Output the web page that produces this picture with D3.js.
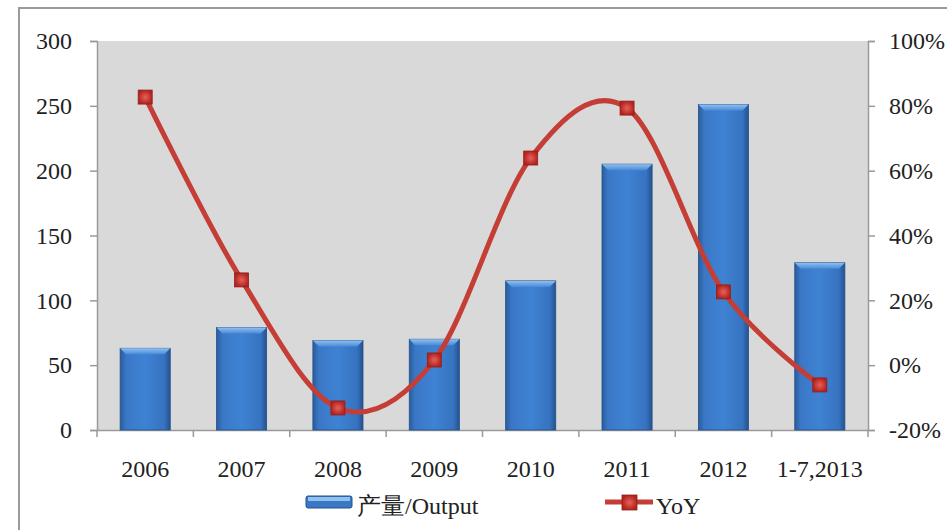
<!DOCTYPE html>
<html>
<head>
<meta charset="utf-8">
<script src="https://cdn.jsdelivr.net/npm/d3@7"></script>
<style>
  body { margin: 0; background: #fff; }
  svg text { font-family: "Liberation Serif", "Times New Roman", serif; fill: #222; }
</style>
</head>
<body>
<svg id="chart" width="947" height="530"></svg>
<script>
// data
const categories = ["2006", "2007", "2008", "2009", "2010", "2011", "2012", "1-7,2013"];
const output = [63, 79, 69, 70, 115, 205, 251, 129];
const yoy = [82.7, 26.3, -13.2, 1.6, 63.9, 79.3, 22.6, -6.1];
const leftTicks = [0, 50, 100, 150, 200, 250, 300];
const rightTicks = [-20, 0, 20, 40, 60, 80, 100];

const svg = d3.select("#chart");
const margin = { top: 41, right: 79, bottom: 100, left: 97 };
const width = 947 - margin.left - margin.right;
const height = 530 - margin.top - margin.bottom;

const defs = svg.append("defs");
const barGrad = defs.append("linearGradient").attr("id", "barGrad")
  .attr("x1", "0").attr("x2", "1").attr("y1", "0").attr("y2", "0");
barGrad.append("stop").attr("offset", "0%").attr("stop-color", "#2a5c9c");
barGrad.append("stop").attr("offset", "12%").attr("stop-color", "#3a78c6");
barGrad.append("stop").attr("offset", "50%").attr("stop-color", "#3f82d3");
barGrad.append("stop").attr("offset", "88%").attr("stop-color", "#3673c0");
barGrad.append("stop").attr("offset", "100%").attr("stop-color", "#24528f");

const topGrad = defs.append("linearGradient").attr("id", "topGrad")
  .attr("x1", "0").attr("x2", "0").attr("y1", "0").attr("y2", "1");
topGrad.append("stop").attr("offset", "0%").attr("stop-color", "#8fc0f0");
topGrad.append("stop").attr("offset", "100%").attr("stop-color", "#4a8ad8");

const markGrad = defs.append("radialGradient").attr("id", "markGrad");
markGrad.append("stop").attr("offset", "0%").attr("stop-color", "#e8605a");
markGrad.append("stop").attr("offset", "100%").attr("stop-color", "#b3241f");

// outer border
svg.append("rect")
  .attr("x", 19).attr("y", 8).attr("width", 940).attr("height", 540)
  .attr("fill", "none").attr("stroke", "#9a9a9a").attr("stroke-width", 2);

const g = svg.append("g")
  .attr("transform", "translate(" + margin.left + "," + margin.top + ")");

g.append("rect")
  .attr("width", width).attr("height", height)
  .attr("fill", "#d9d9d9");

const x = d3.scaleBand().domain(categories).range([0, width]).paddingInner(0.48).paddingOuter(0.24);
const xb = d3.scaleBand().domain(categories).range([0, width]);
const y = d3.scaleLinear().domain([0, 300]).range([height, 0]);
const y2 = d3.scaleLinear().domain([-20, 100]).range([height, 0]);

// axes
const leftAxis = g.append("g")
  .call(d3.axisLeft(y).tickValues(leftTicks).tickSize(7).tickPadding(18));
const rightAxis = g.append("g")
  .attr("transform", "translate(" + width + ",0)")
  .call(d3.axisRight(y2).tickValues(rightTicks).tickSize(7).tickPadding(14)
    .tickFormat(function(d) { return d + "%"; }));
const bottomAxis = g.append("g")
  .attr("transform", "translate(0," + height + ")")
  .call(d3.axisBottom(xb).tickSize(0).tickPadding(30));

// boundary ticks on x axis
g.append("g").selectAll("line")
  .data(d3.range(categories.length + 1))
  .join("line")
  .attr("x1", function(i) { return i * xb.bandwidth(); })
  .attr("x2", function(i) { return i * xb.bandwidth(); })
  .attr("y1", height).attr("y2", height + 7)
  .attr("stroke", "#9a9a9a").attr("stroke-width", 1.5);

[leftAxis, rightAxis, bottomAxis].forEach(function(a) {
  a.selectAll("path").attr("stroke", "#9a9a9a").attr("stroke-width", 1.5);
  a.selectAll("line").attr("stroke", "#9a9a9a").attr("stroke-width", 1.5);
  a.selectAll("text").attr("font-size", 24).attr("fill", "#222")
    .style("font-family", "'Liberation Serif', serif");
});

// bars
const bars = g.selectAll(".bar").data(output).join("g").attr("class", "bar");
bars.append("rect")
  .attr("x", function(d, i) { return x(categories[i]); })
  .attr("y", function(d) { return y(d); })
  .attr("width", x.bandwidth())
  .attr("height", function(d) { return height - y(d); })
  .attr("fill", "url(#barGrad)")
  .attr("stroke", "#23508a").attr("stroke-width", 0.8);
bars.append("path")
  .attr("d", function(d, i) {
    const x0 = x(categories[i]), w = x.bandwidth(), t = y(d);
    return "M" + x0 + "," + t + "H" + (x0 + w) + "L" + (x0 + w - 6) + "," + (t + 6) +
      "H" + (x0 + 6) + "Z";
  })
  .attr("fill", "url(#topGrad)");

// YoY line
const line = d3.line()
  .x(function(d, i) { return xb(categories[i]) + xb.bandwidth() / 2; })
  .y(function(d) { return y2(d); })
  .curve(d3.curveCatmullRom.alpha(0));

g.append("path")
  .datum(yoy)
  .attr("d", line)
  .attr("fill", "none")
  .attr("stroke", "#c43e36")
  .attr("stroke-width", 5);

g.selectAll(".marker").data(yoy).join("rect")
  .attr("class", "marker")
  .attr("x", function(d, i) { return xb(categories[i]) + xb.bandwidth() / 2 - 7; })
  .attr("y", function(d) { return y2(d) - 7; })
  .attr("width", 14).attr("height", 14)
  .attr("fill", "url(#markGrad)")
  .attr("stroke", "#8e1e1a").attr("stroke-width", 0.8);

// legend
const legend = svg.append("g");
legend.append("rect")
  .attr("x", 306).attr("y", 496).attr("width", 46).attr("height", 12)
  .attr("rx", 2)
  .attr("fill", "#3a78c6").attr("stroke", "#23508a");
legend.append("rect")
  .attr("x", 308).attr("y", 497).attr("width", 42).attr("height", 4)
  .attr("fill", "#8fc0f0");
legend.append("text")
  .attr("x", 357).attr("y", 514)
  .attr("font-size", 24)
  .text("产量/Output");

legend.append("line")
  .attr("x1", 605).attr("x2", 653).attr("y1", 502).attr("y2", 502)
  .attr("stroke", "#c43e36").attr("stroke-width", 5);
legend.append("rect")
  .attr("x", 622).attr("y", 495).attr("width", 15).attr("height", 15)
  .attr("fill", "url(#markGrad)").attr("stroke", "#8e1e1a").attr("stroke-width", 0.8);
legend.append("text")
  .attr("x", 656).attr("y", 514)
  .attr("font-size", 24)
  .text("YoY");
</script>
</body>
</html>
